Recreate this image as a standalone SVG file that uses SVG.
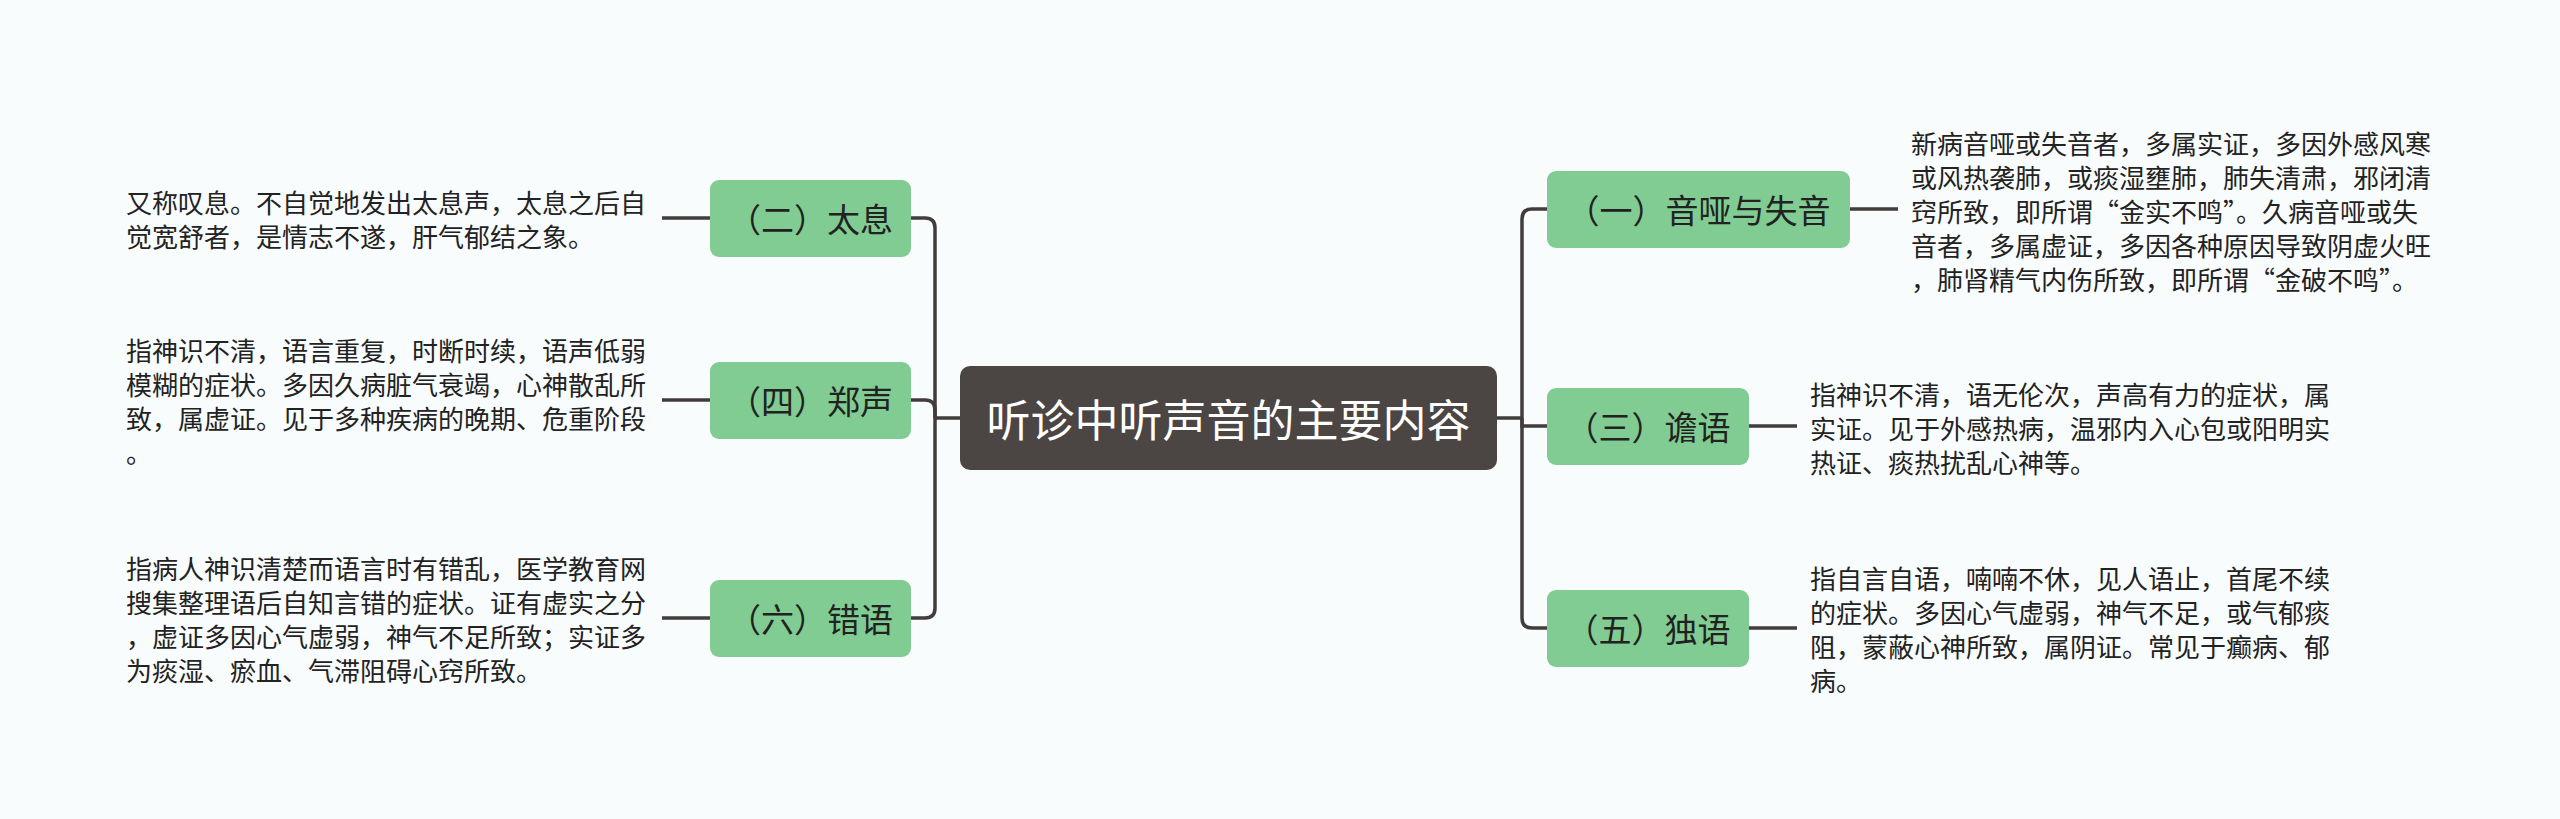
<svg xmlns="http://www.w3.org/2000/svg" width="2560" height="819" viewBox="0 0 2560 819">
<style>
.bg{fill:#f9fcfd}
.node rect{fill:#80cc92}
.node text{font-family:"Noto Sans CJK SC","Noto Sans",sans-serif;font-size:33px;fill:#222;text-anchor:middle;dominant-baseline:central}
.desc{font-family:"Noto Sans CJK SC","Noto Sans",sans-serif;font-size:26px;fill:#222;dominant-baseline:central}
.conn path{fill:none;stroke:#423c3c;stroke-width:3.5}
#root rect{fill:#4b4544}
#root text{font-family:"Noto Sans CJK SC","Noto Sans",sans-serif;font-size:44px;fill:#fff;text-anchor:middle;dominant-baseline:central}
</style>
<rect class="bg" x="0" y="0" width="2560" height="819"/>
<g class="conn" id="connectors">
<path d="M960 418 H935"/>
<path d="M935 418 V228 Q935 218 925 218 H911"/>
<path d="M935 418 V410 Q935 400 925 400 H911"/>
<path d="M935 418 V608 Q935 618 925 618 H911"/>
<path d="M1497 418 H1522"/>
<path d="M1522 418 V219 Q1522 209 1532 209 H1547"/>
<path d="M1522 418 V426 H1547"/>
<path d="M1522 418 V618 Q1522 628 1532 628 H1547"/>
<path d="M662 218 H710"/>
<path d="M662 400 H710"/>
<path d="M662 618 H710"/>
<path d="M1850 209 H1898"/>
<path d="M1749 426 H1797"/>
<path d="M1749 628 H1797"/>
</g>
<g id="root">
<rect x="960" y="366" width="537" height="104" rx="10"/>
<text x="1228.5" y="418">听诊中听声音的主要内容</text>
</g>
<g class="node" id="n2">
<rect x="710" y="180" width="201" height="77" rx="9"/>
<text x="810.5" y="218">（二）太息</text>
</g>
<g class="node" id="n4">
<rect x="710" y="362" width="201" height="77" rx="9"/>
<text x="810.5" y="400">（四）郑声</text>
</g>
<g class="node" id="n6">
<rect x="710" y="580" width="201" height="77" rx="9"/>
<text x="810.5" y="618">（六）错语</text>
</g>
<g class="node" id="n1">
<rect x="1547" y="171" width="303" height="77" rx="9"/>
<text x="1698.5" y="209">（一）音哑与失音</text>
</g>
<g class="node" id="n3">
<rect x="1547" y="388" width="202" height="77" rx="9"/>
<text x="1648" y="426">（三）谵语</text>
</g>
<g class="node" id="n5">
<rect x="1547" y="590" width="202" height="77" rx="9"/>
<text x="1648" y="628">（五）独语</text>
</g>
<g id="d2">
<text class="desc" x="126" y="201">又称叹息。不自觉地发出太息声，太息之后自</text>
<text class="desc" x="126" y="235">觉宽舒者，是情志不遂，肝气郁结之象。</text>
</g>
<g id="d4">
<text class="desc" x="126" y="349">指神识不清，语言重复，时断时续，语声低弱</text>
<text class="desc" x="126" y="383">模糊的症状。多因久病脏气衰竭，心神散乱所</text>
<text class="desc" x="126" y="417">致，属虚证。见于多种疾病的晚期、危重阶段</text>
<text class="desc" x="126" y="451">。</text>
</g>
<g id="d6">
<text class="desc" x="126" y="567">指病人神识清楚而语言时有错乱，医学教育网</text>
<text class="desc" x="126" y="601">搜集整理语后自知言错的症状。证有虚实之分</text>
<text class="desc" x="126" y="635">，虚证多因心气虚弱，神气不足所致；实证多</text>
<text class="desc" x="126" y="669">为痰湿、瘀血、气滞阻碍心窍所致。</text>
</g>
<g id="d1">
<text class="desc" x="1911" y="142">新病音哑或失音者，多属实证，多因外感风寒</text>
<text class="desc" x="1911" y="176">或风热袭肺，或痰湿壅肺，肺失清肃，邪闭清</text>
<text class="desc" x="1911" y="210">窍所致，即所谓“金实不鸣”。久病音哑或失</text>
<text class="desc" x="1911" y="244">音者，多属虚证，多因各种原因导致阴虚火旺</text>
<text class="desc" x="1911" y="278">，肺肾精气内伤所致，即所谓“金破不鸣”。</text>
</g>
<g id="d3">
<text class="desc" x="1810" y="393">指神识不清，语无伦次，声高有力的症状，属</text>
<text class="desc" x="1810" y="427">实证。见于外感热病，温邪内入心包或阳明实</text>
<text class="desc" x="1810" y="461">热证、痰热扰乱心神等。</text>
</g>
<g id="d5">
<text class="desc" x="1810" y="577">指自言自语，喃喃不休，见人语止，首尾不续</text>
<text class="desc" x="1810" y="611">的症状。多因心气虚弱，神气不足，或气郁痰</text>
<text class="desc" x="1810" y="645">阻，蒙蔽心神所致，属阴证。常见于癫病、郁</text>
<text class="desc" x="1810" y="679">病。</text>
</g>
</svg>
